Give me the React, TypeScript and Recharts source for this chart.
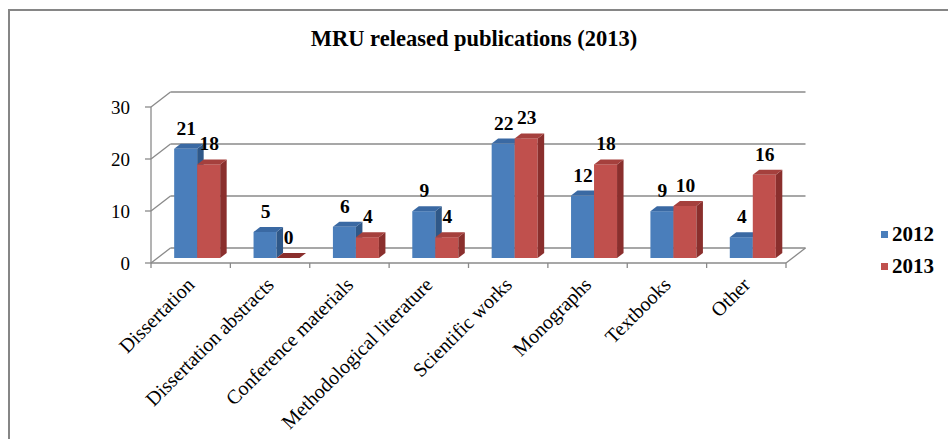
import { BarChart, Bar, XAxis, YAxis, CartesianGrid, LabelList } from 'recharts';

const categories = [
  'Dissertation',
  'Dissertation abstracts',
  'Conference materials',
  'Methodological literature',
  'Scientific works',
  'Monographs',
  'Textbooks',
  'Other',
];
const values2012 = [21, 5, 6, 9, 22, 12, 9, 4];
const values2013 = [18, 0, 4, 4, 23, 18, 10, 16];
const yTicks = [0, 10, 20, 30];

const data = categories.map((name, i) => ({ name, y2012: values2012[i], y2013: values2013[i] }));

// 3D look: bar plane sits between the front plane and the back wall
const DX = 6.5;
const DY = 5;
const FONT = 'Liberation Serif, Tinos, Times New Roman, Times, DejaVu Serif, serif';
const GRID = '#8a8a8a';

const colors = {
  y2012: { face: '#4a7ebb', side: '#2f5888', top: '#3a69a3' },
  y2013: { face: '#c0504d', side: '#8a2f2d', top: '#a5403d' },
};

const makeShape = (key: 'y2012' | 'y2013') => (props: any) => {
  const { x, y, width, height } = props;
  const c = colors[key];
  const h = Math.max(height, 0);
  return (
    <g>
      <rect x={x} y={y} width={width} height={h} fill={c.face} />
      <polygon
        points={`${x + width},${y} ${x + width + DX},${y - DY} ${x + width + DX},${y + h - DY} ${x + width},${y + h}`}
        fill={c.side}
      />
      <polygon
        points={`${x},${y} ${x + DX},${y - DY} ${x + width + DX},${y - DY} ${x + width},${y}`}
        fill={h === 0 ? c.side : c.top}
      />
    </g>
  );
};

const renderLabel = (props: any) => {
  const { x, y, width, value } = props;
  return (
    <text x={x + width / 2 + 0.5} y={y - 14} textAnchor="middle" fontFamily={FONT} fontWeight="bold" fontSize={19.5} fill="#000">
      {value}
    </text>
  );
};

const gridLine = (props: any) => {
  const { x1, y1, x2, y2, x, y, width, height } = props;
  const isFloor = Math.abs(y1 - (y + height)) < 1;
  const parts = [
    <line key="b" x1={x1 + 2 * DX} y1={y1 - 2 * DY} x2={x2 + 2 * DX} y2={y2 - 2 * DY} stroke={GRID} strokeWidth={1.3} />,
    <line key="d" x1={x1 - DX} y1={y1 + DY} x2={x1 + 2 * DX} y2={y1 - 2 * DY} stroke={GRID} strokeWidth={1.3} />,
    <line key="t" x1={x1 - DX - 6} y1={y1 + DY} x2={x1 - DX} y2={y1 + DY} stroke={GRID} strokeWidth={1.3} />,
  ];
  if (isFloor) {
    parts.push(
      <line key="f" x1={x1 - DX} y1={y1 + DY} x2={x2 - DX} y2={y2 + DY} stroke={GRID} strokeWidth={1.3} />,
      <line key="r" x1={x2 - DX} y1={y2 + DY} x2={x2 + 2 * DX} y2={y2 - 2 * DY} stroke={GRID} strokeWidth={1.3} />,
      <line key="v" x1={x1 - DX} y1={y + DY} x2={x1 - DX} y2={y + height + DY} stroke={GRID} strokeWidth={1.3} />
    );
    const band = width / categories.length;
    for (let k = 0; k <= categories.length; k++) {
      const tx = x + k * band - DX;
      parts.push(<line key={`c${k}`} x1={tx} y1={y1 + DY} x2={tx} y2={y1 + DY + 5} stroke={GRID} strokeWidth={1.3} />);
    }
  }
  return <g key={`g-${y1}`}>{parts}</g>;
};

const XTick = (props: any) => {
  const { x, y, payload } = props;
  const ax = x - DX + 5;
  const ay = y + DY + 15;
  return (
    <text x={ax} y={ay} transform={`rotate(-45 ${ax} ${ay})`} textAnchor="end" fontFamily={FONT} fontSize={20} fill="#000">
      {payload.value}
    </text>
  );
};

const YTick = (props: any) => {
  const { x, y, payload } = props;
  return (
    <text x={x - DX - 19} y={y + DY + 6.5} textAnchor="end" fontFamily={FONT} fontSize={19} fill="#000">
      {payload.value}
    </text>
  );
};

const legendItems = [
  { label: '2012', color: colors.y2012.face },
  { label: '2013', color: colors.y2013.face },
];

export default function App() {
  return (
    <div style={{ position: 'absolute', left: 0, top: 0, width: 948, height: 439, background: '#fff', overflow: 'hidden' }}>
      <div
        style={{
          position: 'absolute',
          left: 8,
          top: 9,
          width: 1000,
          height: 500,
          borderLeft: '2px solid #868686',
          borderTop: '2px solid #868686',
        }}
      />
      <div
        style={{
          position: 'absolute',
          left: 0,
          top: 26,
          width: 948,
          textAlign: 'center',
          fontFamily: FONT,
          fontWeight: 'bold',
          fontSize: 22.5,
          color: '#000',
        }}
      >
        MRU released publications (2013)
      </div>
      <div style={{ position: 'absolute', left: 881, top: 218, fontFamily: FONT, fontWeight: 'bold', fontSize: 21, color: '#000' }}>
        {legendItems.map((item) => (
          <div key={item.label} style={{ display: 'flex', alignItems: 'center', height: 32 }}>
            <span style={{ display: 'inline-block', width: 7, height: 7, background: item.color, marginRight: 4 }} />
            <span>{item.label}</span>
          </div>
        ))}
      </div>
      <div style={{ position: 'absolute', left: 0, top: 0 }}>
        <BarChart
          width={948}
          height={439}
          data={data}
          margin={{ top: 102, right: 155.5, bottom: 180, left: 0 }}
          barCategoryGap="21%"
          barGap={0}
        >
          <CartesianGrid vertical={false} horizontal={gridLine} />
          <XAxis dataKey="name" axisLine={false} tickLine={false} interval={0} tick={<XTick />} height={1} />
          <YAxis
            domain={[0, 30]}
            ticks={yTicks}
            axisLine={false}
            tickLine={false}
            tickSize={0}
            width={157.5}
            tick={<YTick />}
          />
          <Bar dataKey="y2012" isAnimationActive={false} shape={makeShape('y2012')}>
            <LabelList dataKey="y2012" content={renderLabel} />
          </Bar>
          <Bar dataKey="y2013" isAnimationActive={false} shape={makeShape('y2013')}>
            <LabelList dataKey="y2013" content={renderLabel} />
          </Bar>
        </BarChart>
      </div>
    </div>
  );
}
